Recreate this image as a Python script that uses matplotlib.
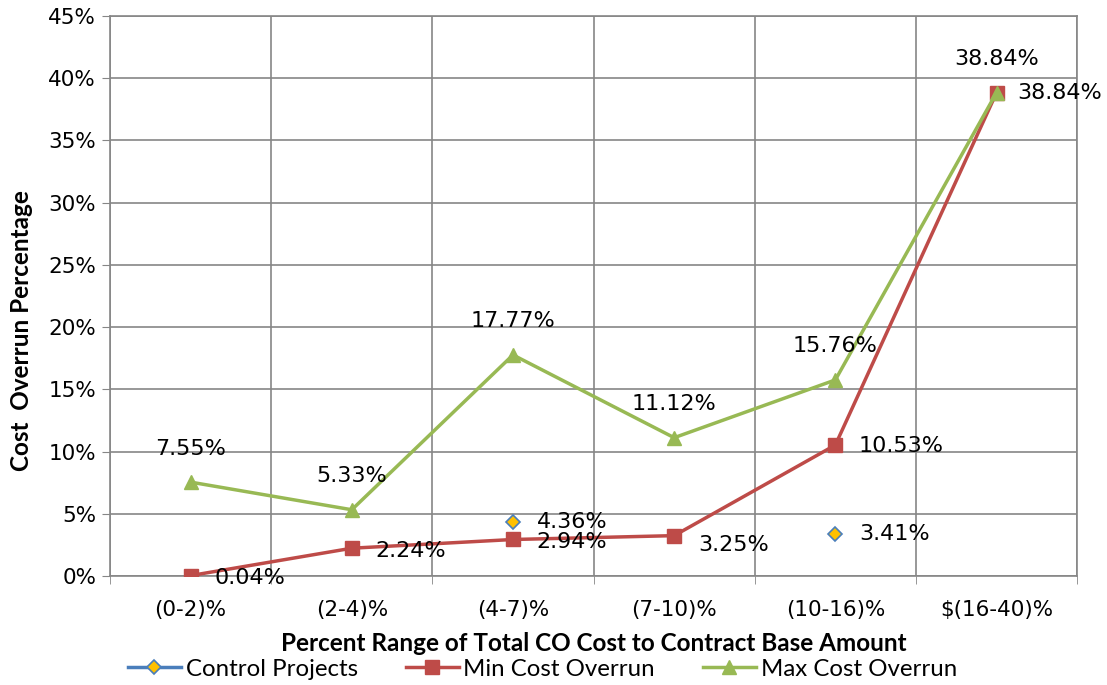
import matplotlib.pyplot as plt
import numpy as np
from matplotlib.font_manager import FontProperties

categories = ["(0-2)%", "(2-4)%", "(4-7)%", "(7-10)%", "(10-16)%", "$(16-40)%"]
control = [np.nan, np.nan, 4.36, np.nan, 3.41, np.nan]
min_overrun = [0.04, 2.24, 2.94, 3.25, 10.53, 38.84]
max_overrun = [7.55, 5.33, 17.77, 11.12, 15.76, 38.84]

plt.rcParams["font.family"] = "DejaVu Sans"
x = np.arange(len(categories))

fig = plt.figure(figsize=(11.07, 6.85), dpi=100)
ax = fig.add_axes([0.0994, 0.159, 0.8736, 0.8176])

ax.plot(x, control, color="#4a7ebb", lw=2.5, marker="D", ms=7,
        mfc="#ffc000", mec="#4a7ebb", mew=1.2, label="Control Projects", zorder=4)
ax.plot(x, min_overrun, color="#be4b48", lw=2.5, marker="s", ms=10,
        label="Min Cost Overrun", zorder=3)
ax.plot(x, max_overrun, color="#98b954", lw=2.5, marker="^", ms=10,
        label="Max Cost Overrun", zorder=3)

# data labels
lab = dict(fontsize=16, textcoords="offset points", family="DejaVu Sans")
for i, v in enumerate(max_overrun):
    ax.annotate(f"{v:.2f}%", (i, v), xytext=(0, 17), ha="center", va="bottom", **lab)
min_offsets = [(17, -2), (17, -2), (17, -2), (17, -7), (17, -1), (15, 0)]
for i, v in enumerate(min_overrun):
    ax.annotate(f"{v:.2f}%", (i, v), xytext=min_offsets[i], ha="left", va="center", **lab)
for i, v in enumerate(control):
    if not np.isnan(v):
        ax.annotate(f"{v:.2f}%", (i, v), xytext=(17, 0), ha="left", va="center", **lab)

ax.set_xlim(-0.5, len(categories) - 0.5)
ax.set_ylim(0, 45)
ax.set_yticks(np.arange(0, 46, 5))
ax.set_yticklabels([f"{t}%" for t in range(0, 46, 5)], fontsize=15.5, family="DejaVu Sans")
ax.set_xticks(x)
ax.set_xticklabels(categories, fontsize=15.5, family="DejaVu Sans")
ax.set_xticks(np.arange(-0.5, len(categories)), minor=True)
ax.tick_params(axis="x", which="major", length=0, pad=17)
ax.tick_params(axis="x", which="minor", length=6, color="#868686", direction="out")
ax.tick_params(axis="y", length=6, color="#868686", direction="out", pad=4)

ax.grid(True, axis="y", color="#868686", lw=1.2)
ax.grid(True, axis="x", which="minor", color="#868686", lw=1.2)
ax.set_axisbelow(True)
for s in ax.spines.values():
    s.set_color("#868686")
    s.set_linewidth(1.2)

title_fp = FontProperties(family="Lato", weight="bold", size=17.5)
ax.set_ylabel("Cost  Overrun Percentage", fontproperties=title_fp)
ax.yaxis.set_label_coords(-0.08, 0.4375)
ax.set_xlabel("Percent Range of Total CO Cost to Contract Base Amount",
              fontproperties=title_fp, labelpad=9)

fig.legend(loc="lower center", bbox_to_anchor=(0.49, -0.024), ncol=3, frameon=False,
           prop=FontProperties(family="Lato", size=17.3), handlelength=2.2,
           columnspacing=2, handletextpad=0.2)

fig.savefig("out.png", dpi=100)
